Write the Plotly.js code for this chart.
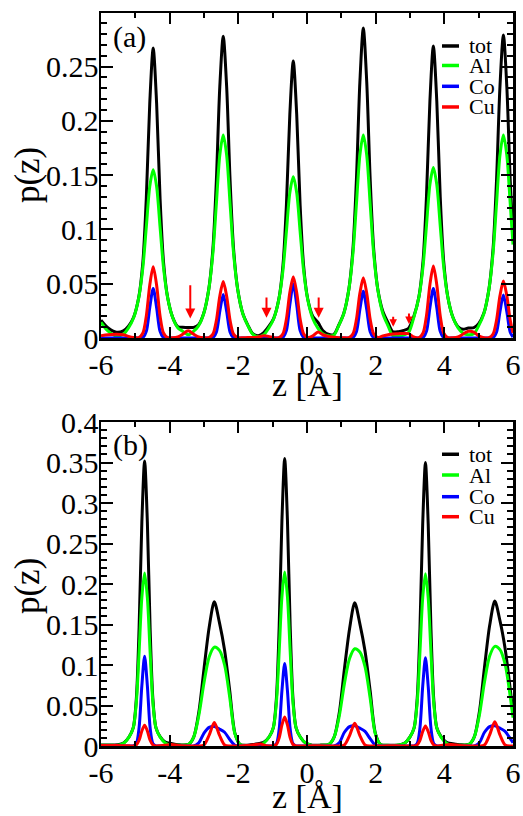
<!DOCTYPE html>
<html>
<head>
<meta charset="utf-8">
<script src="https://cdn.plot.ly/plotly-3.0.1.min.js"></script>
<style>html,body{margin:0;padding:0;background:#fff;}#chart{width:523px;height:816px;}</style>
</head>
<body>
<div id="chart"></div>
<script>
// ---------- panel (a) ----------
const zA = [-6.0,-5.8,-5.55,-5.35,
 -5.20,-5.05,-4.90,-4.78,-4.68,-4.58,-4.48,-4.38,-4.28,-4.18,-4.06,-3.91,-3.76,
 -3.62,-3.46,-3.30,
 -3.16,-3.01,-2.86,-2.74,-2.64,-2.54,-2.44,-2.34,-2.24,-2.14,-2.02,-1.87,-1.72,
 -1.58,-1.42,-1.26,
 -1.12,-0.97,-0.82,-0.70,-0.60,-0.50,-0.40,-0.30,-0.20,-0.10,0.02,0.17,0.32,
 0.46,0.62,0.78,
 0.92,1.07,1.22,1.34,1.44,1.54,1.64,1.74,1.84,1.94,2.06,2.21,2.36,
 2.50,2.66,2.82,
 2.96,3.11,3.26,3.38,3.48,3.58,3.68,3.78,3.88,3.98,4.10,4.25,4.40,
 4.54,4.70,4.86,
 5.00,5.15,5.30,5.42,5.52,5.62,5.72,5.82,5.92,6.00];
const totA = [.0165,.0095,.0053,.0065,
 .0108,.0191,.0375,.0702,.1289,.2160,.2670,.2160,.1289,.0702,.0375,.0188,.0103,
 .0098,.0096,.0098,
 .0122,.0226,.0452,.0825,.1449,.2312,.2780,.2312,.1449,.0825,.0452,.0226,.0117,
 .0040,.0022,.0050,
 .0104,.0181,.0359,.0670,.1223,.2060,.2550,.2060,.1223,.0670,.0361,.0198,.0144,
 .0070,.0035,.0033,
 .0115,.0226,.0452,.0829,.1464,.2356,.2855,.2356,.1464,.0829,.0454,.0244,.0142,
 .0058,.0058,.0070,
 .0090,.0198,.0380,.0710,.1304,.2183,.2690,.2183,.1304,.0710,.0380,.0191,.0104,
 .0080,.0092,.0095,
 .0132,.0227,.0452,.0826,.1450,.2314,.2791,.2314,.1450,.0917];
const alA = [.0145,.0065,.0018,.0035,
 .0093,.0186,.0372,.0651,.1023,.1395,.1550,.1395,.1023,.0651,.0372,.0186,.0093,
 .0063,.0030,.0063,
 .0112,.0224,.0449,.0785,.1234,.1683,.1870,.1683,.1234,.0785,.0449,.0224,.0112,
 .0035,.0012,.0030,
 .0089,.0178,.0356,.0624,.0980,.1337,.1485,.1337,.0980,.0624,.0356,.0178,.0089,
 .0040,.0020,.0025,
 .0112,.0224,.0449,.0785,.1234,.1683,.1870,.1683,.1234,.0785,.0449,.0224,.0112,
 .0020,.0018,.0028,
 .0050,.0188,.0377,.0659,.1036,.1413,.1570,.1413,.1036,.0659,.0377,.0188,.0094,
 .0045,.0030,.0040,
 .0112,.0224,.0449,.0785,.1234,.1683,.1870,.1683,.1234,.0860];
const coA = [0,0,0,0,
 0,0,0,.0005,.0062,.0279,.0457,.0279,.0062,.0005,0,0,0,
 0,0,0,
 0,0,0,.0004,.0054,.0244,.0400,.0244,.0054,.0004,0,0,0,
 0,0,0,
 0,0,0,.0006,.0068,.0305,.0500,.0305,.0068,.0006,0,0,0,
 0,0,0,
 0,0,0,.0005,.0058,.0262,.0430,.0262,.0058,.0005,0,0,0,
 0,0,0,
 0,0,0,.0005,.0062,.0279,.0457,.0279,.0062,.0005,0,0,0,
 0,0,0,
 0,0,0,.0004,.0053,.0242,.0396,.0242,.0053,.0009];
const cuA = [.0020,.0030,.0035,.0030,
 .0015,.0005,.0003,.0046,.0204,.0486,.0657,.0486,.0204,.0046,.0003,.0002,.0010,
 .0035,.0066,.0035,
 .0010,.0002,.0003,.0036,.0161,.0385,.0520,.0385,.0161,.0036,.0003,.0002,.0005,
 .0005,.0010,.0020,
 .0015,.0003,.0003,.0040,.0175,.0418,.0565,.0418,.0175,.0040,.0005,.0020,.0055,
 .0030,.0015,.0008,
 .0003,.0002,.0003,.0039,.0172,.0411,.0555,.0411,.0172,.0039,.0005,.0020,.0030,
 .0038,.0040,.0042,
 .0040,.0010,.0003,.0046,.0206,.0491,.0663,.0491,.0206,.0046,.0003,.0003,.0010,
 .0035,.0062,.0055,
 .0020,.0003,.0003,.0037,.0163,.0389,.0525,.0389,.0163,.0048];

// arrows in panel (a): z position, tail value, tip value
const arrowZ    = [-3.40, -1.18, 0.34, 2.51, 2.97];
const arrowTail = [0.050, 0.0387, 0.0387, 0.021, 0.024];
const arrowTip  = [0.018, 0.0187, 0.0187, 0.0104, 0.0129];

// ---------- panel (b) ----------
const zB = [-6.0,-5.7,-5.5,
 -5.33,-5.18,-5.06,-4.97,-4.89,-4.81,-4.73,-4.65,-4.57,-4.49,-4.40,-4.28,-4.13,
 -3.95,-3.75,
 -3.45,-3.30,-3.15,-3.00,-2.85,-2.70,-2.55,-2.40,-2.25,-2.10,-1.95,
 -1.75,-1.55,-1.35,
 -1.25,-1.10,-0.98,-0.89,-0.81,-0.73,-0.65,-0.57,-0.49,-0.41,-0.32,-0.20,-0.05,
 0.15,0.40,
 0.64,0.79,0.94,1.09,1.24,1.39,1.54,1.69,1.84,1.99,2.14,
 2.35,2.60,
 2.85,3.00,3.12,3.21,3.29,3.37,3.45,3.53,3.61,3.69,3.78,3.90,4.05,
 4.20,4.45,
 4.72,4.87,5.02,5.17,5.32,5.47,5.62,5.77,5.92,6.00];
const totB = [.0013,.0013,.0015,
 .0041,.0115,.0226,.0589,.1461,.2767,.3520,.2767,.1461,.0589,.0226,.0116,.0048,
 .0030,.0015,
 .0020,.0110,.0420,.0953,.1463,.1780,.1523,.1183,.0680,.0160,.0020,
 .0010,.0020,.0035,
 .0049,.0114,.0228,.0595,.1479,.2790,.3550,.2790,.1479,.0595,.0228,.0114,.0039,
 .0011,.0011,
 .0020,.0110,.0410,.0952,.1448,.1770,.1508,.1172,.0680,.0160,.0020,
 .0010,.0010,
 .0038,.0113,.0225,.0587,.1452,.2742,.3500,.2742,.1452,.0587,.0225,.0118,.0050,
 .0030,.0015,
 .0020,.0110,.0420,.0973,.1487,.1790,.1547,.1203,.0700,.0390];
const alB = [.0008,.0008,.0010,
 .0038,.0113,.0224,.0543,.1162,.1835,.2136,.1835,.1162,.0543,.0224,.0113,.0038,
 .0010,.0010,
 .0020,.0110,.0380,.0780,.1100,.1220,.1180,.1000,.0600,.0150,.0020,
 .0005,.0005,.0010,
 .0039,.0114,.0226,.0546,.1169,.1845,.2148,.1845,.1169,.0546,.0226,.0114,.0039,
 .0008,.0008,
 .0020,.0110,.0370,.0770,.1080,.1200,.1160,.0980,.0590,.0150,.0020,
 .0008,.0008,
 .0038,.0113,.0223,.0541,.1158,.1828,.2128,.1828,.1158,.0541,.0223,.0113,.0038,
 .0010,.0010,
 .0020,.0110,.0380,.0790,.1110,.1230,.1190,.1010,.0610,.0350];
const coB = [0,0,0,
 0,0,.0001,.0032,.0228,.0746,.1107,.0746,.0228,.0032,.0001,0,0,
 0,0,
 0,0,.0040,.0160,.0230,.0240,.0210,.0170,.0080,.0010,0,
 0,0,0,
 0,0,.0001,.0029,.0210,.0685,.1017,.0685,.0210,.0029,.0001,0,0,
 0,0,
 0,0,.0040,.0170,.0240,.0250,.0220,.0180,.0090,.0010,0,
 0,0,
 0,0,.0001,.0032,.0225,.0735,.1090,.0735,.0225,.0032,.0001,0,0,
 0,0,
 0,0,.0040,.0170,.0240,.0250,.0220,.0180,.0090,.0040];
const cuB = [.0005,.0005,.0005,
 .0003,.0002,.0001,.0014,.0071,.0186,.0256,.0186,.0071,.0014,.0001,.0003,.0010,
 .0020,.0005,
 0,0,0,.0013,.0133,.0290,.0133,.0013,0,0,0,
 .0005,.0015,.0025,
 .0010,0,.0001,.0020,.0100,.0260,.0358,.0260,.0100,.0020,.0001,0,0,
 .0003,.0003,
 0,0,0,.0012,.0128,.0280,.0128,.0012,0,0,0,
 .0002,.0002,
 0,0,.0001,.0014,.0069,.0179,.0247,.0179,.0069,.0014,.0001,.0005,.0012,
 .0020,.0005,
 0,0,0,.0013,.0137,.0300,.0137,.0013,0,0];

// ---------- labels / ticks ----------
const seriesNames = ["tot", "Al", "Co", "Cu"];
const seriesColors = ["#000000", "#00ff00", "#0000ff", "#ff0000"];
const xTickVals = [-6,-4,-2,0,2,4,6];
const xTickText = ["-6","-4","-2","0","2","4","6"];
const yTickValsA = [0,0.05,0.1,0.15,0.2,0.25];
const yTickTextA = ["0","0.05","0.1","0.15","0.2","0.25"];
const yTickValsB = [0,0.05,0.1,0.15,0.2,0.25,0.3,0.35,0.4];
const yTickTextB = ["0","0.05","0.1","0.15","0.2","0.25","0.3","0.35","0.4"];
const xTitle = "z [Å]";
const yTitle = "p(z)";
const panelLabels = ["(a)", "(b)"];

const FONT = "Liberation Serif, Times New Roman, serif";

const seriesA = [totA, alA, coA, cuA];
const seriesB = [totB, alB, coB, cuB];
const traces = [];
seriesA.forEach((s, i) => traces.push({
  x: zA, y: s, xaxis: "x", yaxis: "y", type: "scatter", mode: "lines",
  name: seriesNames[i], showlegend: false,
  line: {color: seriesColors[i], width: 3, shape: "spline", smoothing: 0.8}
}));
seriesB.forEach((s, i) => traces.push({
  x: zB, y: s, xaxis: "x2", yaxis: "y2", type: "scatter", mode: "lines",
  name: seriesNames[i], showlegend: false,
  line: {color: seriesColors[i], width: 3, shape: "spline", smoothing: 0.8}
}));

function xAxis(anchor) {
  return {
    anchor: anchor, domain: [0, 1], range: [-6, 6],
    tickmode: "array", tickvals: xTickVals, ticktext: xTickText,
    ticks: "inside", ticklen: 11, tickwidth: 2, tickcolor: "#000",
    minor: {dtick: 1, tick0: 0, ticks: "inside", ticklen: 5, tickwidth: 2, tickcolor: "#000"},
    showline: true, linewidth: 2.5, linecolor: "#000", mirror: "allticks",
    showgrid: false, zeroline: false, ticklabelstandoff: -2,
    tickfont: {family: FONT, size: 30, color: "#000"}
  };
}
function yAxis(anchor, domain, range, vals, text) {
  return {
    anchor: anchor, domain: domain, range: range,
    tickmode: "array", tickvals: vals, ticktext: text,
    ticks: "inside", ticklen: 12, tickwidth: 2, tickcolor: "#000",
    minor: {dtick: 0.01, tick0: 0, ticks: "inside", ticklen: 6, tickwidth: 2, tickcolor: "#000"},
    showline: true, linewidth: 2.5, linecolor: "#000", mirror: "allticks",
    showgrid: false, zeroline: false, ticklabelstandoff: -6,
    tickfont: {family: FONT, size: 30, color: "#000"}
  };
}

const shapes = [];
const annotations = [];
// axis titles
[[0.4925, 0.779], [-0.0695, 0.2183]].forEach(p => {
  annotations.push({xref: "paper", yref: "paper", x: 0.5, y: p[0],
    xanchor: "center", yanchor: "middle", showarrow: false,
    text: xTitle, font: {family: FONT, size: 34, color: "#000"}});
  annotations.push({xref: "paper", yref: "paper", x: -0.177, y: p[1],
    xanchor: "center", yanchor: "middle", showarrow: false, textangle: -90,
    text: yTitle, font: {family: FONT, size: 35, color: "#000"}});
});
// manual compact legend (paper coordinates)
const legendRowsA = [0.955, 0.9284, 0.900, 0.8718];
const legendRowsB = [0.398, 0.3697, 0.3401, 0.3128];
[legendRowsA, legendRowsB].forEach(rows => {
  rows.forEach((yy, i) => {
    shapes.push({type: "line", xref: "paper", yref: "paper",
      x0: 0.8277, x1: 0.869, y0: yy, y1: yy,
      line: {color: seriesColors[i], width: 3.5}});
    annotations.push({xref: "paper", yref: "paper", x: 0.888, y: yy,
      xanchor: "left", yanchor: "middle", showarrow: false,
      text: seriesNames[i], font: {family: FONT, size: 22, color: "#000"}});
  });
});
annotations.push({xref: "paper", yref: "paper", x: 0.024, y: 0.9666,
  xanchor: "left", yanchor: "middle", showarrow: false,
  text: panelLabels[0], font: {family: FONT, size: 30, color: "#000"}});
annotations.push({xref: "paper", yref: "paper", x: 0.024, y: 0.4106,
  xanchor: "left", yanchor: "middle", showarrow: false,
  text: panelLabels[1], font: {family: FONT, size: 30, color: "#000"}});
arrowZ.forEach((z, i) => annotations.push({
  xref: "x", yref: "y", axref: "x", ayref: "y",
  x: z, y: arrowTip[i], ax: z, ay: arrowTail[i],
  text: "", showarrow: true, arrowhead: 2, arrowsize: (i >= 3 ? 0.75 : 1.0), arrowwidth: 2,
  arrowcolor: "#ff0000"
}));

const layout = {
  width: 523, height: 816,
  margin: {l: 101, r: 10, t: 13, b: 70},
  paper_bgcolor: "#fff", plot_bgcolor: "#fff",
  showlegend: false,
  font: {family: FONT, color: "#000"},
  xaxis: xAxis("y"),
  yaxis: yAxis("x", [0.5566, 1], [0, 0.2993], yTickValsA, yTickTextA),
  xaxis2: xAxis("y2"),
  yaxis2: yAxis("x2", [0, 0.442], [0, 0.4], yTickValsB, yTickTextB),
  shapes: shapes,
  annotations: annotations
};

Plotly.newPlot("chart", traces, layout, {displayModeBar: false, staticPlot: true});
</script>
</body>
</html>
